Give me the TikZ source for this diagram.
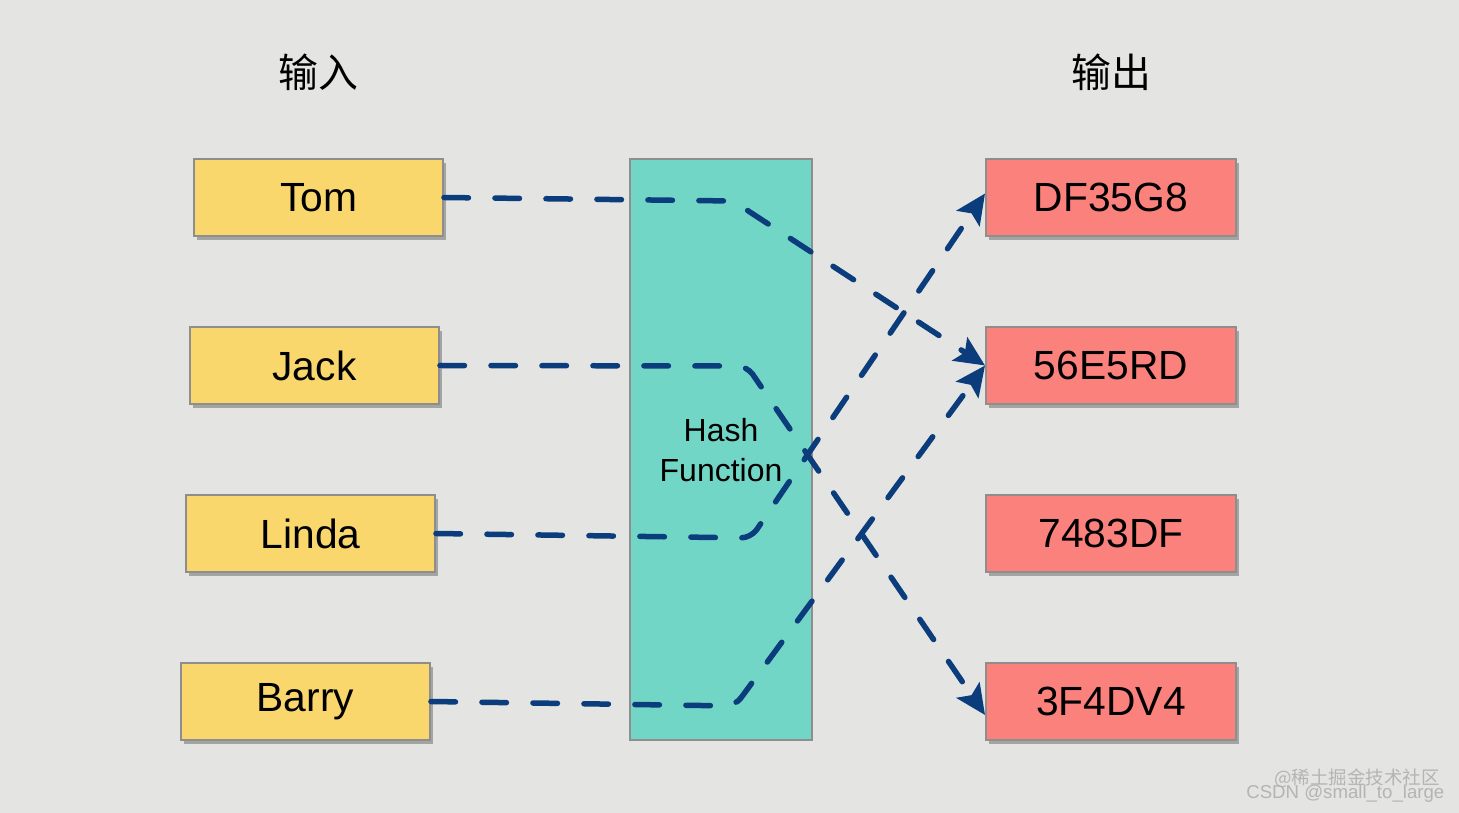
\documentclass[tikz,border=0pt]{standalone}
\usepackage{fontspec}
\setmainfont{Liberation Sans}
\newfontfamily\cjkfont{Noto Sans CJK SC}
\usetikzlibrary{arrows.meta,shadows}
\definecolor{bgc}{HTML}{E4E4E2}
\definecolor{yel}{HTML}{FAD76D}
\definecolor{teal}{HTML}{72D6C6}
\definecolor{salm}{HTML}{FA817C}
\definecolor{bord}{HTML}{8E8E8E}
\definecolor{lnc}{HTML}{0B3C7B}
\definecolor{wmc}{HTML}{B4B4B4}
\tikzset{
  inbox/.style={draw=bord, line width=0.04cm, fill=yel, minimum width=4.98cm, minimum height=1.54cm, inner sep=0pt,
     drop shadow={shadow xshift=0.06cm, shadow yshift=-0.08cm, opacity=0.28, fill=black},
     font=\fontsize{23.2}{26}\selectfont, text=black},
  outbox/.style={inbox, fill=salm, minimum width=5.0cm},
  hashbox/.style={draw=bord, line width=0.04cm, fill=teal, minimum width=3.64cm, minimum height=11.62cm, inner sep=0pt},
  title/.style={font=\cjkfont\fontsize{22.7}{26}\selectfont, text=black},
  hashtext/.style={font=\fontsize{18.2}{22.5}\selectfont, align=center, text=black},
  flow/.style={draw=lnc, line width=0.11cm, line cap=round, dash pattern=on 0.49cm off 0.53cm, rounded corners=0.2cm,
     -{Stealth[length=0.6cm, width=0.55cm, inset=0.12cm]}},
  wmark/.style={text=wmc, inner sep=0pt}
}
\begin{document}
\begin{tikzpicture}[x=0.02cm, y=-0.02cm]
\fill[bgc] (0,0) rectangle (1459,813);
\useasboundingbox (0,0) rectangle (1459,813);

\node[title] (tin) at (318,72) {输入};
\node[title] (tout) at (1111,72) {输出};

\node[hashbox] (hash) at (721,449.5) {};
\node[hashtext] (htext) at (721,450) {Hash\\Function};

\node[inbox] (tom) at (318.5,197.5) {Tom};
\node[inbox] (jack) at (314.5,365.5) {Jack};
\node[inbox] (linda) at (310.5,533.5) {Linda};
\node[inbox] (barry) at (305.5,701.5) {Barry};

\node[outbox] (r1) at (1111,197.5) {DF35G8};
\node[outbox] (r2) at (1111,365.5) {56E5RD};
\node[outbox] (r3) at (1111,533.5) {7483DF};
\node[outbox] (r4) at (1111,701.5) {3F4DV4};

\coordinate (b1) at (733,201);
\coordinate (b2) at (747,366);
\coordinate (b3) at (751,538);
\coordinate (b4) at (735,706);
\coordinate (e1) at ([yshift=0.08cm]r1.west);
\coordinate (e4) at ([yshift=-0.27cm]r4.west);

\draw[flow] (tom.east) -- (b1) -- (r2.west);
\draw[flow] (jack.east) -- (b2) -- (e4);
\draw[flow] (linda.east) -- (b3) -- (e1);
\draw[flow] (barry.east) -- (b4) -- (r2.west);

\node[wmark, font=\cjkfont\fontsize{10.5}{12}\selectfont] (wm1) at (1357,778) {@稀土掘金技术社区};
\node[wmark, font=\fontsize{10.6}{12}\selectfont, anchor=west] (wm2) at (1246,794) {CSDN @small\_to\_large};
\end{tikzpicture}
\end{document}
